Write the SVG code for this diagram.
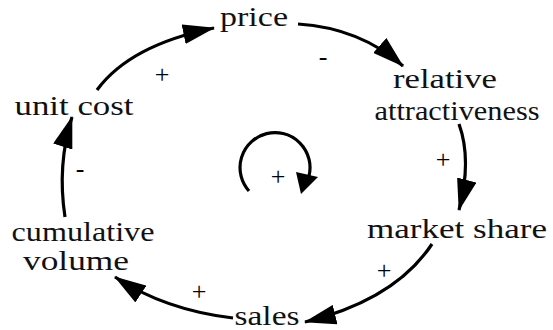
<svg xmlns="http://www.w3.org/2000/svg" width="553" height="330" viewBox="0 0 553 330">
<style>
.lbl{font-family:"Liberation Serif","DejaVu Serif","Times New Roman",serif;font-size:28px;fill:#111;text-anchor:middle}
.pol{font-family:"Liberation Serif","DejaVu Serif","Times New Roman",serif;font-size:26px;fill:#000;text-anchor:middle}
.c{fill:none;stroke:#000;stroke-width:3.2}
</style>
<defs>
<marker id="ah" viewBox="0 0 32 20" refX="31" refY="10" markerWidth="32" markerHeight="20" markerUnits="userSpaceOnUse" orient="auto">
<path d="M0,0 L32,10 L0,20 Z" fill="#000"/>
</marker>
</defs>
<g id="connectors">
<path class="c" d="M97 90 Q130 45 214 28" marker-end="url(#ah)"/>
<path class="c" d="M298 24 Q360 28 403 66" marker-end="url(#ah)"/>
<path class="c" d="M459 124 Q472 160 459 210" marker-end="url(#ah)"/>
<path class="c" d="M432 244 Q395 300 305 322" marker-end="url(#ah)"/>
<path class="c" d="M233 318 Q165 310 115 277" marker-end="url(#ah)"/>
<path class="c" d="M65 217 Q57 165 72 117" marker-end="url(#ah)"/>
<path class="c" d="M249 191 A35 35 0 1 1 309 176"/>
<path d="M296 172 L318 177 L301 194 Z" fill="#000"/>
</g>
<g id="price"><text class="lbl" x="254" y="26" textLength="68" lengthAdjust="spacingAndGlyphs">price</text></g>
<g id="relative-attractiveness"><text class="lbl" x="445" y="88" textLength="104" lengthAdjust="spacingAndGlyphs">relative</text><text class="lbl" x="457" y="120" textLength="165" lengthAdjust="spacingAndGlyphs">attractiveness</text></g>
<g id="market-share"><text class="lbl" x="457" y="238" textLength="180" lengthAdjust="spacingAndGlyphs">market share</text></g>
<g id="sales"><text class="lbl" x="267" y="325" textLength="65" lengthAdjust="spacingAndGlyphs">sales</text></g>
<g id="cumulative-volume"><text class="lbl" x="83" y="241" textLength="143" lengthAdjust="spacingAndGlyphs">cumulative</text><text class="lbl" x="76" y="270" textLength="106" lengthAdjust="spacingAndGlyphs">volume</text></g>
<g id="unit-cost"><text class="lbl" x="74" y="115" textLength="119" lengthAdjust="spacingAndGlyphs">unit cost</text></g>
<g id="polarities">
<text class="pol" x="162" y="83">+</text>
<text class="pol" x="323" y="65">-</text>
<text class="pol" x="443" y="168">+</text>
<text class="pol" x="384" y="279">+</text>
<text class="pol" x="199" y="300">+</text>
<text class="pol" x="80" y="177">-</text>
<text class="pol" x="278" y="185">+</text>
</g>
</svg>
